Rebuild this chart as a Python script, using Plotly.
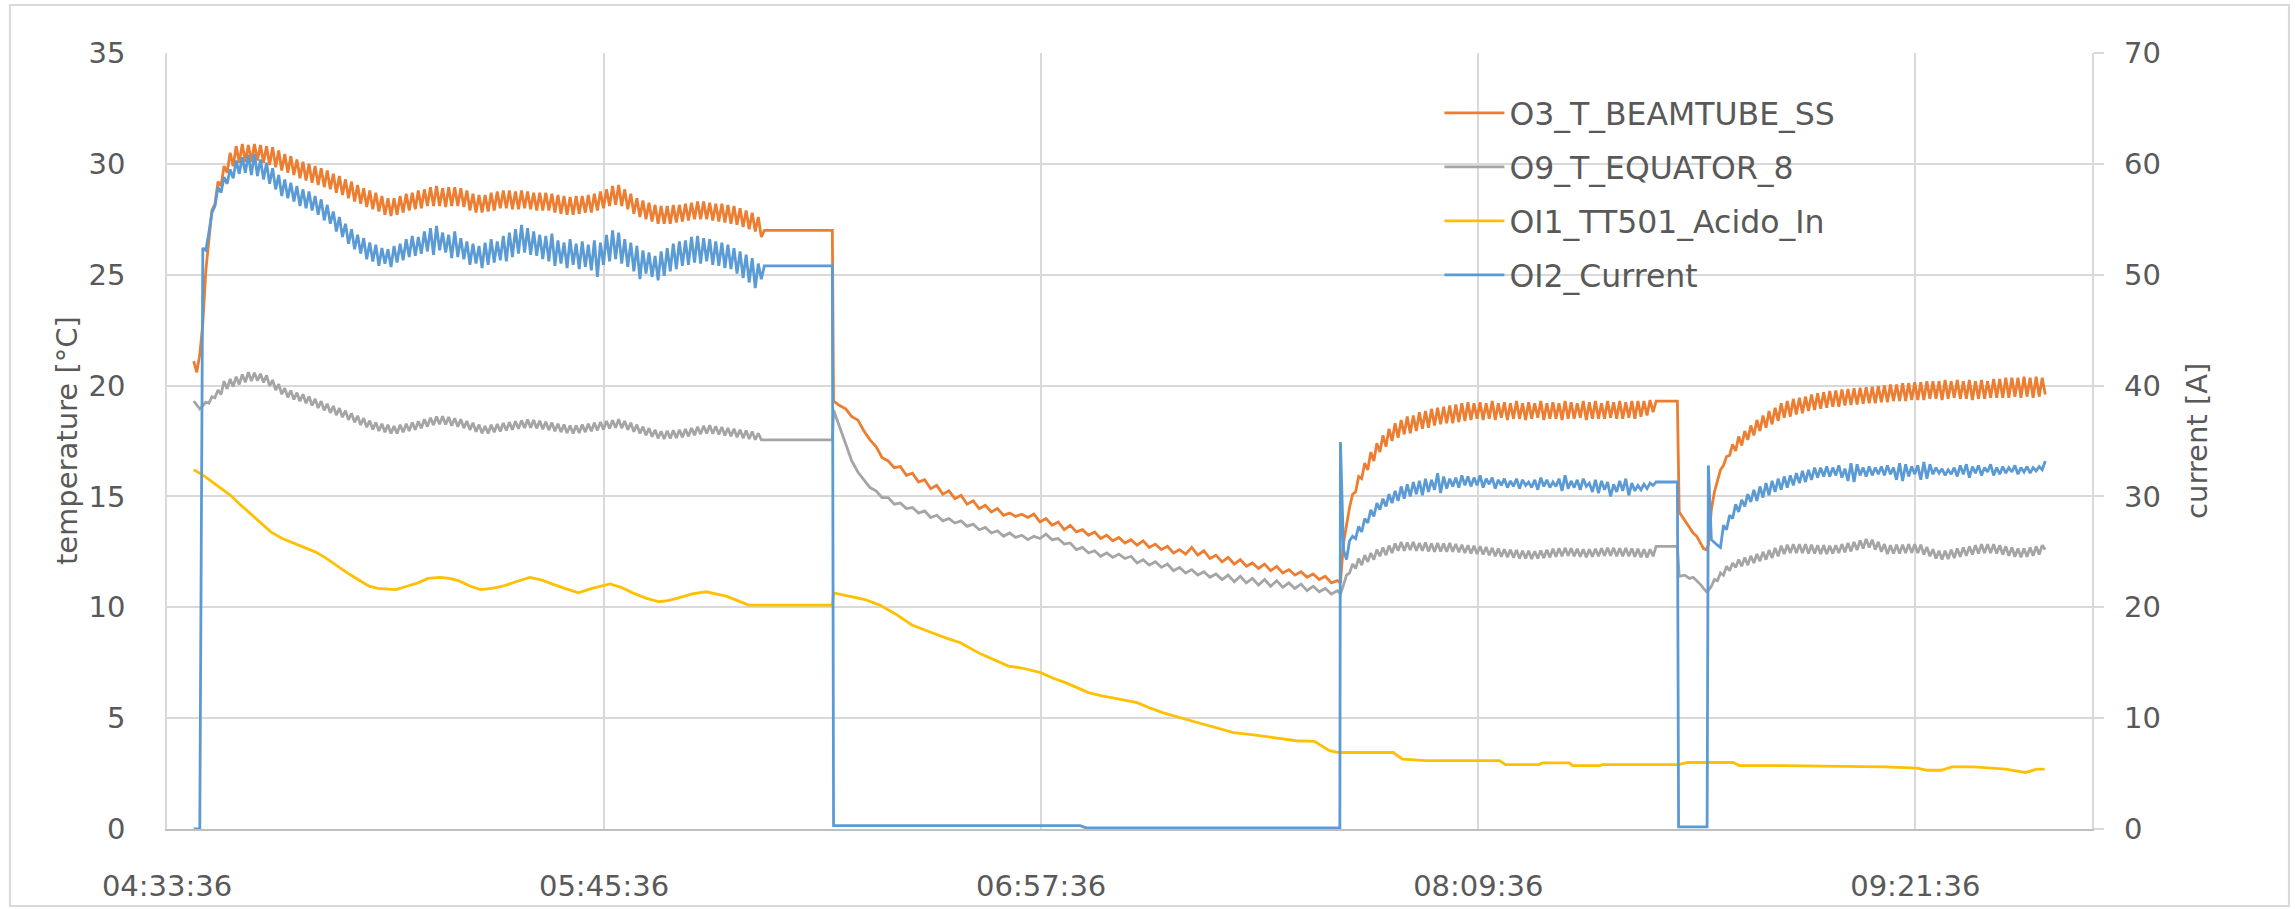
import pandas as pd
import plotly.graph_objects as go

DAY = "2024-01-01 "
AXIS_START = "04:33:36"
AXIS_END = "09:50:42"
TICK_STEP_MIN = 72

SERIES_NAMES = ["O3_T_BEAMTUBE_SS", "O9_T_EQUATOR_8", "OI1_TT501_Acido_In", "OI2_Current"]
COLORS = ["#ED7D31", "#A5A5A5", "#FFC000", "#5B9BD5"]
Y_TITLE = "temperature [°C]"
Y2_TITLE = "current [A]"

# ---------------- O3_T_BEAMTUBE_SS (°C) ----------------
O3_run1 = [21.1, 20.6, 21.4, 22.8, 25.2, 26.6, 27.9, 28.2, 29.2, 29.0,
           29.9, 29.6, 30.5, 29.9, 30.8, 30.05, 30.9, 30.1, 30.85, 30.1,
           30.9, 30.15, 30.85, 30.05, 30.8, 29.95, 30.75, 29.85, 30.6, 29.7,
           30.45, 29.6, 30.35, 29.5, 30.2, 29.35, 30.1, 29.25, 30.0, 29.15,
           29.9, 29.05, 29.8, 28.95, 29.7, 28.85, 29.55, 28.7, 29.45, 28.6,
           29.3, 28.45, 29.2, 28.3, 29.05, 28.2, 28.9, 28.05, 28.8, 27.95,
           28.7, 27.85, 28.55, 27.7, 28.45, 27.65, 28.45, 27.7, 28.55, 27.8,
           28.65, 27.9, 28.7, 27.95, 28.8, 28.0, 28.85, 28.1, 28.95, 28.1,
           29.0, 28.1, 28.9, 28.05, 28.95, 28.1, 28.95, 28.1, 28.9, 28.05,
           28.8, 27.9, 28.65, 27.8, 28.6, 27.8, 28.6, 27.85, 28.7, 27.9,
           28.75, 28.0, 28.8, 28.0, 28.8, 27.95, 28.75, 27.95, 28.8, 28.0,
           28.75, 27.95, 28.7, 27.9, 28.7, 27.9, 28.7, 27.9, 28.65, 27.8,
           28.6, 27.75, 28.55, 27.7, 28.5, 27.7, 28.55, 27.75, 28.55, 27.8,
           28.6, 27.8, 28.65, 27.9, 28.75, 28.0, 28.85, 28.1, 29.0, 28.15,
           29.05, 28.1, 28.85, 27.95, 28.65, 27.75, 28.45, 27.6, 28.35, 27.5,
           28.25, 27.4, 28.15, 27.3, 28.1, 27.3, 28.1, 27.3, 28.15, 27.35,
           28.15, 27.4, 28.2, 27.45, 28.25, 27.5, 28.3, 27.5, 28.3, 27.5,
           28.25, 27.45, 28.2, 27.4, 28.2, 27.35, 28.15, 27.3, 28.1, 27.25,
           28.0, 27.15, 27.9, 27.05, 27.8, 26.95, 27.6, 26.7, 27.0]
O3_hold1 = [27.0]
O3_decay = [19.3, 19.1, 18.95, 18.6, 18.45, 17.95, 17.55, 17.25, 16.75, 16.6,
            16.3, 16.35, 15.95, 16.05, 15.65, 15.75, 15.35, 15.5, 15.1, 15.25,
            14.9, 15.05, 14.65, 14.8, 14.45, 14.6, 14.3, 14.45, 14.15, 14.25,
            14.1, 14.2, 14.05, 14.2, 13.85, 14.0, 13.7, 13.85, 13.5, 13.7,
            13.4, 13.5, 13.25, 13.4, 13.1, 13.25, 13.0, 13.15, 12.9, 13.05,
            12.8, 13.0, 12.7, 12.85, 12.6, 12.75, 12.45, 12.6, 12.4, 12.7,
            12.35, 12.55, 12.2, 12.35, 12.05, 12.25, 11.95, 12.15, 11.85, 12.0,
            11.75, 11.95, 11.65, 11.85, 11.55, 11.7, 11.45, 11.6, 11.35, 11.5,
            11.25, 11.4, 11.1, 11.2]
O3_run2 = [11.1, 12.9, 13.8, 14.5, 15.1, 15.2, 15.9, 15.8, 16.5, 16.2,
           17.0, 16.6, 17.4, 17.0, 17.75, 17.25, 18.05, 17.5, 18.3, 17.65,
           18.45, 17.8, 18.6, 17.85, 18.65, 17.95, 18.8, 18.05, 18.85, 18.1,
           18.95, 18.2, 19.0, 18.25, 19.05, 18.3, 19.1, 18.3, 19.15, 18.35,
           19.2, 18.4, 19.25, 18.45, 19.2, 18.5, 19.25, 18.45, 19.2, 18.5,
           19.3, 18.45, 19.2, 18.55, 19.25, 18.45, 19.2, 18.5, 19.3, 18.5,
           19.2, 18.45, 19.25, 18.5, 19.2, 18.55, 19.3, 18.45, 19.2, 18.5,
           19.25, 18.5, 19.2, 18.45, 19.3, 18.5, 19.25, 18.5, 19.2, 18.55,
           19.3, 18.45, 19.25, 18.5, 19.3, 18.5, 19.2, 18.5, 19.3, 18.55,
           19.25, 18.5, 19.3, 18.5, 19.25, 18.55, 19.3, 18.5, 19.3, 18.6,
           19.3, 18.65, 19.35, 18.8, 19.3]
O3_dip = [19.3, 14.3, 13.9, 13.6, 13.35, 13.2, 12.85, 12.65, 12.6]
O3_run3 = [12.8, 14.4, 15.2, 15.7, 16.2, 16.4, 16.8, 16.85, 17.35, 17.05,
           17.7, 17.3, 17.95, 17.55, 18.2, 17.75, 18.45, 17.95, 18.65, 18.1,
           18.85, 18.25, 19.0, 18.4, 19.2, 18.55, 19.3, 18.6, 19.4, 18.7,
           19.45, 18.75, 19.5, 18.85, 19.6, 18.9, 19.65, 18.95, 19.7, 19.0,
           19.75, 19.05, 19.78, 19.05, 19.82, 19.1, 19.85, 19.12, 19.88, 19.15,
           19.9, 19.18, 19.92, 19.2, 19.95, 19.2, 19.98, 19.25, 20.0, 19.25,
           20.05, 19.3, 20.05, 19.3, 20.1, 19.3, 20.1, 19.35, 20.15, 19.35,
           20.15, 19.35, 20.2, 19.4, 20.2, 19.4, 20.2, 19.35, 20.25, 19.4,
           20.2, 19.45, 20.25, 19.4, 20.2, 19.4, 20.25, 19.35, 20.2, 19.4,
           20.25, 19.4, 20.2, 19.45, 20.3, 19.45, 20.3, 19.45, 20.35, 19.45,
           20.35, 19.5, 20.35, 19.45, 20.4, 19.5, 20.35, 19.45, 20.4, 19.5,
           20.35, 19.6]

# ---------------- O9_T_EQUATOR_8 (°C) ----------------
O9_run1 = [19.3, 19.1, 18.95, 19.1, 19.25, 19.2, 19.5, 19.45, 19.8, 19.6,
           20.2, 19.85, 20.3, 19.95, 20.4, 20.05, 20.5, 20.15, 20.6, 20.2,
           20.58, 20.22, 20.53, 20.14, 20.46, 19.99, 20.25, 19.8, 20.06, 19.61,
           19.88, 19.47, 19.78, 19.37, 19.68, 19.29, 19.61, 19.2, 19.51, 19.1,
           19.4, 18.99, 19.3, 18.88, 19.18, 18.77, 19.08, 18.67, 18.98, 18.57,
           18.87, 18.45, 18.75, 18.34, 18.64, 18.22, 18.53, 18.12, 18.42, 18.02,
           18.34, 17.95, 18.28, 17.89, 18.23, 17.84, 18.18, 17.84, 18.23, 17.89,
           18.28, 17.95, 18.34, 18.0, 18.39, 18.07, 18.48, 18.15, 18.55, 18.22,
           18.61, 18.26, 18.62, 18.24, 18.58, 18.19, 18.53, 18.14, 18.48, 18.08,
           18.4, 18.0, 18.32, 17.92, 18.24, 17.85, 18.18, 17.84, 18.23, 17.89,
           18.27, 17.93, 18.31, 17.97, 18.35, 18.01, 18.39, 18.05, 18.43, 18.09,
           18.47, 18.1, 18.45, 18.07, 18.41, 18.03, 18.37, 17.99, 18.33, 17.94,
           18.28, 17.9, 18.24, 17.86, 18.2, 17.84, 18.2, 17.86, 18.24, 17.9,
           18.28, 17.94, 18.32, 17.98, 18.36, 18.02, 18.4, 18.06, 18.44, 18.1,
           18.48, 18.08, 18.4, 18.0, 18.32, 17.92, 18.24, 17.84, 18.15, 17.76,
           18.08, 17.69, 18.01, 17.62, 17.94, 17.59, 17.96, 17.61, 17.98, 17.64,
           18.01, 17.67, 18.04, 17.71, 18.09, 17.76, 18.14, 17.81, 18.19, 17.84,
           18.21, 17.83, 18.17, 17.79, 18.13, 17.75, 18.09, 17.71, 18.05, 17.67,
           18.01, 17.63, 17.97, 17.59, 17.93, 17.56, 17.85, 17.55, 17.55]
O9_hold1 = [17.55]
O9_decay = [18.9, 18.1, 17.3, 16.6, 16.1, 15.75, 15.4, 15.25, 14.95, 14.95,
            14.65, 14.7, 14.45, 14.5, 14.25, 14.35, 14.05, 14.15, 13.9, 14.0,
            13.8, 13.9, 13.65, 13.75, 13.5, 13.6, 13.35, 13.45, 13.2, 13.35,
            13.15, 13.25, 13.05, 13.2, 13.1, 13.3, 13.05, 13.1, 12.85, 12.9,
            12.6, 12.7, 12.45, 12.55, 12.3, 12.45, 12.25, 12.4, 12.2, 12.3,
            12.0, 12.15, 11.9, 12.05, 11.8, 11.95, 11.65, 11.8, 11.55, 11.7,
            11.45, 11.6, 11.35, 11.5, 11.25, 11.45, 11.15, 11.4, 11.1, 11.3,
            11.0, 11.25, 10.95, 11.2, 10.9, 11.1, 10.85, 11.05, 10.75, 10.95,
            10.7, 10.85, 10.6, 10.75]
O9_run2 = [10.6, 11.0, 11.45, 11.55, 11.95, 11.75, 12.2, 11.9, 12.35, 12.05,
           12.45, 12.15, 12.6, 12.3, 12.7, 12.35, 12.78, 12.45, 12.88, 12.55,
           12.95, 12.55, 12.92, 12.58, 12.95, 12.55, 12.9, 12.55, 12.92, 12.52,
           12.88, 12.5, 12.9, 12.52, 12.88, 12.5, 12.9, 12.5, 12.86, 12.48,
           12.82, 12.45, 12.8, 12.42, 12.78, 12.4, 12.75, 12.38, 12.72, 12.35,
           12.68, 12.3, 12.65, 12.28, 12.62, 12.26, 12.6, 12.24, 12.58, 12.2,
           12.55, 12.2, 12.55, 12.18, 12.53, 12.2, 12.56, 12.22, 12.6, 12.25,
           12.64, 12.28, 12.66, 12.3, 12.68, 12.32, 12.66, 12.3, 12.64, 12.28,
           12.62, 12.26, 12.62, 12.28, 12.64, 12.3, 12.66, 12.32, 12.68, 12.32,
           12.68, 12.3, 12.66, 12.3, 12.68, 12.3, 12.65, 12.28, 12.64, 12.26,
           12.62, 12.25, 12.62, 12.3, 12.75]
O9_dip = [12.75, 11.4, 11.45, 11.3, 11.35, 11.2, 11.0, 10.85, 10.7]
O9_run3 = [10.75, 10.95, 11.25, 11.2, 11.55, 11.45, 11.85, 11.65, 12.0, 11.8,
           12.15, 11.85, 12.25, 11.9, 12.32, 12.0, 12.4, 12.08, 12.5, 12.15,
           12.58, 12.22, 12.68, 12.3, 12.78, 12.4, 12.82, 12.45, 12.85, 12.45,
           12.85, 12.45, 12.85, 12.42, 12.82, 12.42, 12.8, 12.4, 12.8, 12.4,
           12.78, 12.42, 12.8, 12.45, 12.85, 12.48, 12.9, 12.52, 12.95, 12.58,
           13.02, 12.65, 13.08, 12.7, 13.05, 12.6, 12.95, 12.5, 12.85, 12.4,
           12.8, 12.42, 12.82, 12.42, 12.82, 12.45, 12.85, 12.46, 12.85, 12.45,
           12.82, 12.38, 12.72, 12.3, 12.62, 12.2, 12.55, 12.15, 12.55, 12.18,
           12.6, 12.22, 12.65, 12.28, 12.7, 12.32, 12.75, 12.38, 12.8, 12.42,
           12.85, 12.45, 12.85, 12.45, 12.85, 12.42, 12.8, 12.38, 12.75, 12.32,
           12.7, 12.28, 12.65, 12.26, 12.65, 12.28, 12.7, 12.32, 12.75, 12.38,
           12.8, 12.6]

# ---------------- OI1_TT501_Acido_In (°C), minutes after AXIS_START ----------------
OI1_min = [4.4, 6, 7.5, 9, 10.45, 12, 13.4, 15, 17.1, 19,
           20.75, 22.5, 24.4, 26, 28.1, 30, 31.8, 33.3, 34.7, 37.7,
           39.5, 41.35, 43, 45, 46.5, 48, 50, 51.66, 53.5, 55.3,
           57.5, 59.75, 61.5, 63.4, 65.5, 67.8, 70, 73.0, 74.8, 76.7,
           79, 81.1, 82.5, 84.0, 86.5, 88.8, 90.5, 92.1, 94, 95.8,
           109.6, 109.8, 111.5, 113, 115, 117.4, 120, 122.7, 124.5, 126,
           128.5, 130.7, 134, 136.5, 138.6, 141, 143.9, 146, 148, 151.8,
           154, 156, 159.8, 162, 164, 167.8, 171, 173.5, 175.7, 179,
           181.5, 183.7, 186, 189, 191.5, 193, 202, 203.5, 207.5, 219.5,
           220.5, 226, 226.5, 231, 231.5, 236, 236.5, 249, 250.5, 258,
           259, 266, 270, 276.4, 283, 288.3, 290, 292.3, 294, 297.6,
           300, 302.9, 305, 306.2, 308, 309.3]
OI1_val = [16.2, 15.95, 15.65, 15.35, 15.05, 14.65, 14.3, 13.9, 13.4, 13.1,
           12.9, 12.7, 12.5, 12.25, 11.85, 11.5, 11.2, 10.95, 10.85, 10.8,
           10.95, 11.1, 11.3, 11.35, 11.3, 11.2, 10.95, 10.8, 10.85, 10.95,
           11.15, 11.35, 11.25, 11.05, 10.85, 10.65, 10.85, 11.05, 10.9, 10.65,
           10.4, 10.25, 10.3, 10.4, 10.6, 10.7, 10.6, 10.5, 10.3, 10.1,
           10.1, 10.65, 10.55, 10.45, 10.35, 10.1, 9.7, 9.2, 9.0, 8.85,
           8.6, 8.4, 7.9, 7.6, 7.35, 7.25, 7.05, 6.8, 6.6, 6.15,
           6.0, 5.9, 5.7, 5.45, 5.25, 4.95, 4.7, 4.5, 4.35, 4.25,
           4.15, 4.05, 3.98, 3.95, 3.53, 3.45, 3.45, 3.15, 3.08, 3.08,
           2.9, 2.9, 2.98, 2.98, 2.86, 2.86, 2.9, 2.9, 3.0, 3.0,
           2.86, 2.86, 2.85, 2.85, 2.8, 2.75, 2.65, 2.65, 2.8, 2.8,
           2.75, 2.7, 2.6, 2.55, 2.7, 2.7]

# ---------------- OI2_Current (A) ----------------
OI2_run1 = [0, 0, 0, 52.4, 52.2, 53.8, 55.6, 56.2, 57.9, 57.4,
            58.8, 58.2, 59.5, 58.7, 60.3, 59.1, 60.6, 59.2, 60.8, 59.0,
            60.9, 58.9, 60.4, 58.6, 60.1, 58.2, 59.6, 57.7, 59.0, 57.1,
            58.6, 56.9, 58.3, 56.6, 58.0, 56.2, 57.7, 56.0, 57.5, 55.8,
            57.1, 55.4, 56.8, 54.9, 56.3, 54.6, 55.7, 53.9, 55.2, 53.4,
            54.6, 52.8, 54.1, 52.3, 53.6, 51.9, 53.3, 51.4, 52.9, 51.2,
            52.7, 50.8, 52.4, 51.0, 52.3, 50.7, 52.6, 51.1, 52.8, 51.3,
            53.2, 51.6, 53.5, 51.7, 53.4, 51.9, 53.9, 52.1, 54.2, 51.8,
            54.4, 52.2, 53.8, 52.0, 53.6, 51.5, 53.9, 51.6, 53.3, 51.4,
            53.0, 50.9, 52.8, 51.0, 52.6, 50.6, 52.9, 50.9, 53.2, 51.1,
            53.0, 51.3, 53.5, 51.2, 53.8, 51.6, 54.1, 51.9, 54.5, 52.0,
            54.2, 51.8, 53.9, 51.7, 53.6, 51.4, 53.5, 51.2, 53.7, 50.8,
            53.1, 51.0, 52.9, 50.6, 53.2, 50.9, 52.8, 50.5, 53.0, 50.7,
            52.7, 50.4, 53.1, 49.8, 52.9, 50.9, 53.6, 51.2, 54.0, 51.4,
            53.8, 51.0, 53.2, 50.7, 52.9, 50.3, 52.6, 49.6, 52.2, 50.1,
            52.0, 49.8, 51.7, 49.5, 52.1, 49.9, 52.4, 50.3, 52.8, 50.5,
            53.0, 50.8, 53.1, 50.9, 53.4, 51.1, 53.5, 51.0, 53.3, 51.2,
            53.2, 50.9, 53.0, 50.8, 52.9, 50.6, 52.7, 50.5, 52.4, 50.1,
            52.1, 49.7, 51.8, 49.3, 51.5, 48.8, 51.0, 49.6, 50.8]
OI2_off1 = [50.8, 0.3, 0.3, 0.1, 0.1]
OI2_run2 = [34.9, 25.2, 24.3, 26.0, 26.4, 26.2, 27.3, 26.8, 28.0, 27.6,
            28.8, 28.2, 29.4, 28.8, 29.8, 29.1, 30.2, 29.4, 30.5, 29.6,
            30.9, 29.8, 31.1, 30.0, 31.3, 30.2, 31.4, 30.1, 31.6, 30.4,
            31.5, 30.6, 32.1, 30.3, 31.8, 30.7, 31.6, 30.9, 31.7, 30.8,
            31.9, 31.0, 31.8, 30.9, 31.7, 31.0, 31.9, 30.8, 31.6, 31.1,
            31.7, 30.7, 31.5, 31.0, 31.6, 30.8, 31.4, 30.9, 31.6, 30.7,
            31.5, 31.0, 31.3, 30.8, 31.5, 30.6, 31.7, 30.9, 31.5, 30.8,
            31.3, 30.9, 31.6, 30.5, 31.9, 30.7, 31.4, 30.8, 31.5, 30.6,
            31.6, 30.9, 31.2, 30.4, 31.5, 30.3, 31.4, 30.6, 31.3, 30.0,
            31.1, 30.4, 31.4, 30.5, 31.6, 30.1, 31.2, 30.5, 31.0, 30.6,
            31.1, 30.7, 31.2, 31.0, 31.3]
OI2_off2 = [31.3, 0.2, 0.2]
OI2_run3 = [32.8, 26.1, 25.8, 25.6, 25.4, 27.4, 27.0, 28.3, 28.0, 29.3,
            28.6, 29.7, 29.1, 30.2, 29.5, 30.6, 29.6, 30.9, 29.9, 31.2,
            30.1, 31.4, 30.4, 31.6, 30.6, 31.8, 30.8, 31.9, 31.0, 32.1,
            31.2, 32.3, 31.3, 32.4, 31.5, 32.6, 31.7, 32.6, 31.8, 32.7,
            31.8, 32.6, 31.9, 32.8, 31.7, 32.5, 31.4, 33.0, 31.3, 32.9,
            31.9, 32.6, 31.8, 32.7, 31.9, 32.6, 32.0, 32.7, 31.9, 32.8,
            32.0, 32.6, 31.5, 33.0, 31.4, 32.9, 31.8, 32.7, 32.0, 32.8,
            31.5, 33.1, 31.6, 32.9, 32.0, 32.6, 32.1, 32.5, 31.9, 32.4,
            32.0, 32.6, 31.8, 32.8, 32.0, 32.9, 31.7, 32.7, 32.1, 32.8,
            31.9, 32.6, 32.2, 32.9, 31.9, 32.6, 32.0, 32.7, 32.1, 32.6,
            32.2, 32.8, 32.0, 32.6, 32.2, 32.7, 32.1, 32.6, 32.3, 32.7,
            32.4, 33.2]

# logger timestamps of the pieces
RUN1_START = "04:38:00"
HOLD1_END = ["06:23:12"]
DECAY_START = "06:23:24"
RUN2_START = "07:46:54"
DIP_TIMES = ["08:42:24", "08:42:42", "08:43:36", "08:44:24", "08:45:00",
             "08:45:36", "08:46:18", "08:46:42", "08:47:12"]
RUN3_START = "08:47:30"
OFF1_TIMES = ["06:23:12", "06:23:24", "07:04:00", "07:05:00", "07:46:48"]
OFF2_TIMES = ["08:42:24", "08:42:36", "08:47:18"]


def run(start, step_s, values):
    t = pd.date_range(DAY + start, periods=len(values), freq=f"{step_s}s")
    return list(t), list(values)


def pts(times, values):
    return [pd.Timestamp(DAY + t) for t in times], list(values)


def join(*pieces):
    xs, ys = [], []
    for x, y in pieces:
        xs += x
        ys += y
    return xs, ys


o3 = join(run(RUN1_START, 30, O3_run1), pts(HOLD1_END, O3_hold1),
          run(DECAY_START, 60, O3_decay), run(RUN2_START, 30, O3_run2),
          pts(DIP_TIMES, O3_dip), run(RUN3_START, 30, O3_run3))
o9 = join(run(RUN1_START, 30, O9_run1), pts(HOLD1_END, O9_hold1),
          run(DECAY_START, 60, O9_decay), run(RUN2_START, 30, O9_run2),
          pts(DIP_TIMES, O9_dip), run(RUN3_START, 30, O9_run3))
t0 = pd.Timestamp(DAY + AXIS_START)
oi1 = ([t0 + pd.Timedelta(minutes=m) for m in OI1_min], OI1_val)
oi2 = join(run(RUN1_START, 30, OI2_run1), pts(OFF1_TIMES, OI2_off1),
           run(RUN2_START, 30, OI2_run2), pts(OFF2_TIMES, OI2_off2),
           run(RUN3_START, 30, OI2_run3))

FONT = "DejaVu Sans"
TXT = "#595959"
GRID = "#D9D9D9"
FS = 29

fig = go.Figure()
for (x, y), name, col, ax in zip([o3, o9, oi1, oi2], SERIES_NAMES, COLORS, ["y", "y", "y", "y2"]):
    fig.add_trace(go.Scatter(x=x, y=y, name=name, mode="lines", yaxis=ax,
                             legendgroup=name,
                             line=dict(color=col, width=2.8)))

fig.update_layout(
    width=2295, height=909,
    margin=dict(l=167, r=203, t=53, b=80),
    paper_bgcolor="white", plot_bgcolor="white",
    font=dict(family=FONT, size=FS, color=TXT),
    showlegend=True,
    legend=dict(x=0.661, y=0.9575, xanchor="left", yanchor="top",
                bgcolor="rgba(0,0,0,0)", tracegroupgap=10, itemwidth=60,
                font=dict(family=FONT, size=31.5, color=TXT)),
    xaxis=dict(type="date", automargin=False,
               range=[DAY + AXIS_START, DAY + AXIS_END],
               tick0=DAY + AXIS_START, dtick=TICK_STEP_MIN * 60 * 1000,
               tickformat="%H:%M:%S", showgrid=True, gridcolor=GRID, gridwidth=1.5,
               showline=True, linecolor="#BFBFBF", linewidth=2,
               ticks="", ticklabelstandoff=30, zeroline=False),
    yaxis=dict(range=[0, 35], dtick=5, automargin=False,
               showgrid=True, gridcolor=GRID, gridwidth=1.5,
               showline=True, linecolor=GRID, linewidth=1.5, zeroline=False,
               ticks="", ticklabelstandoff=34),
    yaxis2=dict(range=[0, 70], dtick=10, overlaying="y", side="right",
                automargin=False, tickprefix="\u2002",
                showgrid=False, showline=True, linecolor=GRID, linewidth=1.5,
                zeroline=False, ticks="outside", ticklen=10, tickcolor=GRID,
                tickwidth=1.5),
    annotations=[
        dict(text=Y_TITLE, xref="paper", yref="paper", x=-0.0519, y=0.5,
             xanchor="center", yanchor="middle", textangle=-90, showarrow=False,
             font=dict(family=FONT, size=FS, color=TXT)),
        dict(text=Y2_TITLE, xref="paper", yref="paper", x=1.0545, y=0.5,
             xanchor="center", yanchor="middle", textangle=-90, showarrow=False,
             font=dict(family=FONT, size=FS, color=TXT)),
    ],
    shapes=[dict(type="rect", xref="paper", yref="paper",
                 x0=-0.0816, x1=1.1023, y0=-0.0992, y1=1.0619,
                 line=dict(color=GRID, width=2), fillcolor="rgba(0,0,0,0)",
                 layer="below")],
)

fig.write_html("out.html")
